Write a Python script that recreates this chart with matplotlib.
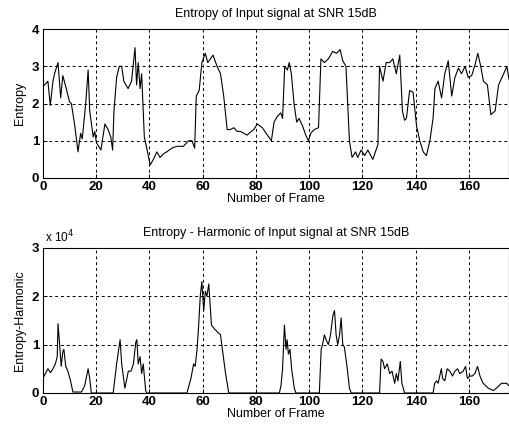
import numpy as np
import matplotlib.pyplot as plt

# top panel: entropy per frame
ent_frame = [0, 0, 1.3, 1.9, 2.8, 3.8, 4.4, 5.7, 6.7, 7.5, 8.8, 10, 10.7, 12, 13.2,
             14.2, 14.8, 16.1, 17, 17.6, 18.9, 19.5, 20.1, 21.8, 23.3, 24.5, 25.5,
             26.2, 26.7, 27.7, 28.7, 29.6, 30.4, 32, 33.3, 34.6, 35.2, 35.8, 36.5,
             37.1, 38.1, 39, 40.3, 41.5, 42.8, 44, 45.3, 46.5, 48.4, 50.3, 52.8,
             54.7, 56, 57, 57.6, 58.7, 59.7, 61, 61.9, 63.9, 65.4, 66.7, 67.9, 69.2,
             70.4, 71.7, 73, 74.2, 76.7, 77.4, 79.2, 80.5, 82.4, 84.3, 85.8, 86.8,
             88, 89.3, 90, 90.8, 91.8, 92.5, 93.3, 94.3, 95.3, 96.2, 97.5, 98.7,
             99.7, 100.6, 101.9, 103.5, 104.4, 105.7, 107.2, 108.8, 110.3, 111.6,
             112.6, 113.8, 115.1, 116.1, 117.4, 118.2, 119.5, 120.8, 122, 123.9,
             125.8, 126.4, 127.7, 128.9, 130.2, 131.4, 132.7, 134, 135, 135.8,
             136.5, 137.7, 139, 140.3, 141.5, 142.8, 144, 145.3, 146.5, 147.2,
             148.4, 149.7, 150.9, 152.2, 153.5, 154.7, 156, 157.2, 158.5, 159.7,
             161, 162.3, 163.3, 164.4, 165.4, 166.9, 168.2, 169.8, 171.1, 173,
             174.2, 175]
ent_value = [0.0, 2.45, 2.55, 2.6, 1.95, 2.6, 2.8, 3.1, 2.15, 2.75, 2.4, 2.05, 2.0,
             1.4, 0.7, 1.2, 1.05, 2.0, 2.9, 1.8, 1.1, 1.25, 0.95, 0.75, 1.45, 1.3,
             1.1, 0.75, 1.8, 2.7, 3.0, 3.0, 2.6, 2.4, 2.6, 3.5, 2.5, 3.1, 2.4, 2.8,
             1.1, 0.8, 0.35, 0.5, 0.7, 0.55, 0.65, 0.7, 0.8, 0.85, 0.85, 1.0, 1.0,
             0.8, 2.2, 2.35, 3.1, 3.35, 3.1, 3.3, 3.0, 2.8, 2.2, 1.3, 1.3, 1.35,
             1.25, 1.25, 1.15, 1.2, 1.3, 1.45, 1.35, 1.15, 1.0, 1.5, 1.65, 1.75,
             1.6, 3.0, 2.9, 3.1, 2.8, 2.0, 1.5, 1.6, 1.4, 1.15, 1.0, 1.2, 1.3,
             1.35, 3.2, 3.1, 3.2, 3.4, 3.35, 3.45, 3.15, 3.0, 1.0, 0.55, 0.7, 0.55,
             0.75, 0.6, 0.75, 0.5, 0.9, 3.0, 2.6, 3.1, 3.1, 3.2, 2.8, 3.3, 1.8,
             1.55, 1.6, 2.35, 2.3, 1.4, 1.0, 0.7, 0.6, 1.0, 1.6, 2.4, 2.6, 2.15,
             2.8, 3.15, 2.2, 2.7, 2.95, 2.8, 3.0, 2.7, 2.75, 3.05, 3.35, 3.0, 2.6,
             2.5, 1.7, 1.8, 2.5, 2.8, 3.0, 2.65]

# bottom panel: entropy-harmonic (x 10^4)
eh_frame = [0, 0, 1.9, 2.9, 3.8, 4.7, 5.4, 5.7, 6.3, 6.9, 7.5, 7.9, 8.6, 9.4, 10.4,
            11.3, 14.5, 15.7, 17, 17.6, 18.2, 26.4, 27.7, 29, 29.6, 30.8, 32.1,
            33.1, 34, 34.9, 35.3, 35.8, 36.5, 37.1, 37.7, 38.6, 39, 54.1, 55.6,
            56.6, 57.2, 57.9, 58.5, 59.1, 59.7, 60.4, 61, 61.6, 62.3, 63.3, 64.8,
            66.7, 68.6, 69.8, 88.8, 89.4, 90, 90.7, 91.3, 91.7, 92.2, 92.8, 93.4,
            94.4, 95, 103.8, 104.5, 105, 105.7, 106.3, 107.2, 108, 108.9, 109.5,
            110.1, 110.7, 111.4, 112, 112.6, 113.2, 114.3, 115.1, 115.8, 126.4,
            127, 127.7, 128.3, 129.3, 130.2, 131.1, 132.1, 132.7, 133.3, 134.2,
            134.8, 135.8, 146.5, 147.1, 147.8, 148.4, 149, 149.6, 150.1, 150.9,
            151.8, 152.8, 153.8, 154.7, 155.7, 156.5, 157.8, 158.7, 159.4, 160.3,
            161.2, 162.2, 163.2, 164.1, 165.3, 167.2, 169.1, 170.3, 172.2, 174.1,
            175]
eh_value = [1.2, 0.3, 0.5, 0.42, 0.5, 0.6, 0.75, 1.43, 1.0, 0.55, 0.85, 0.9, 0.55,
            0.45, 0.25, 0.02, 0.02, 0.15, 0.5, 0.3, 0.0, 0.0, 0.6, 1.1, 0.6, 0.1,
            0.45, 0.45, 0.6, 1.05, 1.1, 0.6, 0.75, 0.4, 0.6, 0.05, 0.0, 0.0, 0.3,
            0.6, 0.55, 0.9, 1.4, 2.0, 2.3, 1.7, 2.1, 2.0, 2.25, 1.4, 1.3, 1.2, 0.4,
            0.0, 0.0, 0.15, 0.5, 1.4, 0.9, 1.1, 0.8, 0.9, 0.5, 0.1, 0.0, 0.0, 0.9,
            1.0, 1.2, 1.1, 1.0, 1.2, 1.6, 1.7, 1.2, 1.0, 1.2, 1.55, 1.0, 0.95, 0.5,
            0.1, 0.0, 0.0, 0.7, 0.65, 0.5, 0.6, 0.4, 0.45, 0.2, 0.4, 0.25, 0.65,
            0.2, 0.0, 0.0, 0.2, 0.25, 0.2, 0.35, 0.5, 0.3, 0.25, 0.5, 0.45, 0.35,
            0.45, 0.5, 0.4, 0.45, 0.55, 0.3, 0.35, 0.35, 0.4, 0.55, 0.35, 0.2, 0.1,
            0.05, 0.1, 0.2, 0.2, 0.15]

title_top = 'Entropy of Input signal at SNR 15dB'
title_bot = 'Entropy - Harmonic of Input signal at SNR 15dB'

plt.rcParams['font.family'] = ['Liberation Sans', 'DejaVu Sans']

fig = plt.figure(figsize=(5.1, 4.34), dpi=100)
ax1 = fig.add_axes([0.084, 0.590, 0.914, 0.343])
ax2 = fig.add_axes([0.084, 0.0945, 0.914, 0.335])

for ax in (ax1, ax2):
    ax.set_xlim(0, 175)
    ax.set_xticks(range(0, 175, 20))
    ax.grid(True, color='black', linestyle=(0, (3, 3)), linewidth=0.7)
    ax.tick_params(direction='in', labelsize=9.5, length=3, width=0.7, pad=2.5)
    for lab in ax.get_xticklabels() + ax.get_yticklabels():
        lab.set_fontweight('bold')
    for sp in ax.spines.values():
        sp.set_linewidth(0.8)
    ax.set_xlabel('Number of Frame', fontsize=9, labelpad=0)

ax1.plot(ent_frame, ent_value, color='black', linewidth=0.8)
ax1.set_ylim(0, 4)
ax1.set_yticks([0, 1, 2, 3, 4])
ax1.set_ylabel('Entropy', fontsize=9, labelpad=4)
ax1.set_title(title_top, fontsize=9, pad=9)

ax2.plot(eh_frame, eh_value, color='black', linewidth=0.8)
ax2.set_ylim(0, 3)
ax2.set_yticks([0, 1, 2, 3])
ax2.set_ylabel('Entropy-Harmonic', fontsize=9, labelpad=4)
ax2.set_title(title_bot, fontsize=9, pad=8)
ax2.text(0.005, 1.015, r'x 10$^4$', transform=ax2.transAxes, fontsize=8.5,
         ha='left', va='bottom')

fig.savefig('out.png', dpi=100)
